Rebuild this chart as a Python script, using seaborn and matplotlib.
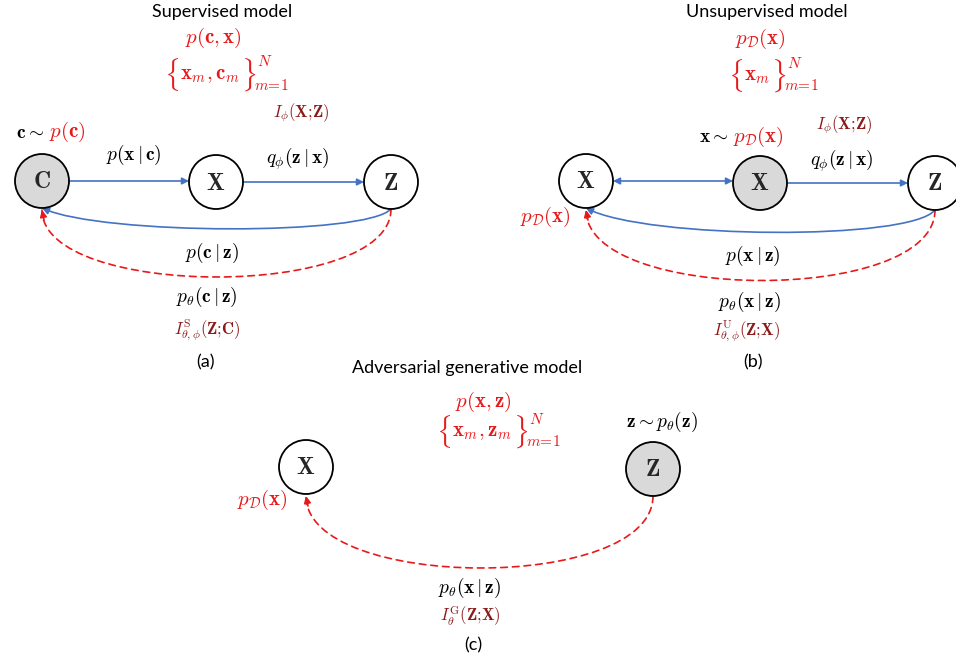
import matplotlib
matplotlib.use("Agg")
import matplotlib.pyplot as plt
import seaborn as sns
from matplotlib.patches import Circle, FancyArrowPatch
from matplotlib.path import Path

sns.set_theme(style="white")
plt.rcParams["font.family"] = ["Lato", "DejaVu Sans"]
plt.rcParams["mathtext.fontset"] = "cm"

BLUE = "#4472C4"
RED = "#E8191B"
DARKRED = "#8B1A1A"
GREY = "#D9D9D9"

# graph nodes: name -> label, shaded
node_names = ["Ca", "Xa", "Za", "Xb1", "Xb2", "Zb", "Xc", "Zc"]
node_labels = [r"$\mathbf{C}$", r"$\mathbf{X}$", r"$\mathbf{Z}$",
               r"$\mathbf{X}$", r"$\mathbf{X}$", r"$\mathbf{Z}$",
               r"$\mathbf{X}$", r"$\mathbf{Z}$"]
node_shaded = [True, False, False, False, True, False, False, True]

# edges: (from, to, kind)
straight_edges = [("Ca", "Xa", "->"), ("Xa", "Za", "->"), ("Xb2", "Zb", "->"), ("Xb1", "Xb2", "<->")]
blue_curves = [("Za", "Ca"), ("Zb", "Xb1")]
red_curves = [("Za", "Ca"), ("Zb", "Xb1"), ("Zc", "Xc")]

panel_titles = ["Supervised model", "Unsupervised model", "Adversarial generative model"]
panel_tags = ["(a)", "(b)", "(c)"]

# dataset sets
set_bodies = [r"$\mathbf{x}_m,\mathbf{c}_m$", r"$\mathbf{x}_m$", r"$\mathbf{x}_m,\mathbf{z}_m$"]

# layout (pixels)
R = 27
pos = {"Ca": (42, 181), "Xa": (216, 182), "Za": (391, 182),
       "Xb1": (586, 181), "Xb2": (760, 183), "Zb": (935, 183),
       "Xc": (306, 467), "Zc": (653, 469)}
blue_dip = {"Za": 27, "Zb": 31}
red_dip = {"Za": 91, "Zb": 95, "Zc": 97}
set_pos = [(210, 75), (757, 76), (482, 432)]

fig = plt.figure(figsize=(9.56, 6.62), dpi=100)
ax = fig.add_axes([0, 0, 1, 1])
ax.set_xlim(0, 956)
ax.set_ylim(662, 0)
ax.axis("off")

for name, lab, sh in zip(node_names, node_labels, node_shaded):
    x, y = pos[name]
    ax.add_patch(Circle((x, y), R, facecolor=GREY if sh else "white",
                        edgecolor="black", lw=1.3, zorder=3))
    ax.text(x, y + 1, lab, ha="center", va="center", fontsize=17, zorder=4)

for a, b, style in straight_edges:
    (x0, y0), (x1, y1) = pos[a], pos[b]
    st = "-|>" if style == "->" else "<|-|>"
    ax.add_patch(FancyArrowPatch((x0 + R, y0), (x1 - R, y0), arrowstyle=st,
                                 mutation_scale=10, color=BLUE, lw=1.2,
                                 shrinkA=0, shrinkB=0, zorder=2))

for a, b in blue_curves:
    (x0, y0), (x1, y1) = pos[a], pos[b]
    y0, y1 = y0 + R, y1 + R
    d = blue_dip[a]
    verts = [(x0, y0), (x0 - 25, y0 + d), (x1 + 60, y1 + d), (x1, y1)]
    p = Path(verts, [Path.MOVETO, Path.CURVE4, Path.CURVE4, Path.CURVE4])
    ax.add_patch(FancyArrowPatch(path=p, arrowstyle="-|>", mutation_scale=10,
                                 color=BLUE, lw=1.2, zorder=2))

for a, b in red_curves:
    (x0, y0), (x1, y1) = pos[a], pos[b]
    y0, y1 = y0 + R, y1 + R
    d = red_dip[a]
    verts = [(x0, y0), (x0, y0 + d), (x1, y1 + d), (x1, y1 + 2)]
    p = Path(verts, [Path.MOVETO, Path.CURVE4, Path.CURVE4, Path.CURVE4])
    ax.add_patch(FancyArrowPatch(path=p, arrowstyle="-", color=RED, lw=1.2,
                                 linestyle=(0, (4, 3)), zorder=2))
    ax.add_patch(FancyArrowPatch((x1 + 2, y1 + 12), (x1, y1 + 2), arrowstyle="-|>",
                                 mutation_scale=10, color=RED, lw=1.2,
                                 shrinkA=0, shrinkB=0, zorder=2))

# titles and tags
for t, (x, y) in zip(panel_titles, [(222, 12), (767, 12), (467, 368)]):
    ax.text(x, y, t, ha="center", va="center", fontsize=13, color="black")
for t, (x, y) in zip(panel_tags, [(206, 362), (753, 362), (473, 645)]):
    ax.text(x, y, t, ha="center", va="center", fontsize=13, color="black")

fs = 14
def m(x, y, s, c="black", size=fs, ha="center"):
    return ax.text(x, y, s, ha=ha, va="center", fontsize=size, color=c)

# sets with large braces
renderer = fig.canvas.get_renderer()
inv = ax.transData.inverted()
for body, (x, y) in zip(set_bodies, set_pos):
    t = m(x, y, body, RED, 15)
    bb = t.get_window_extent(renderer).transformed(inv)
    x0, x1 = min(bb.x0, bb.x1), max(bb.x0, bb.x1)
    m(x0 - 1, y, r"$\{$", RED, 20, ha="right")
    rb = m(x1 + 1, y, r"$\}$", RED, 20, ha="left")
    rbb = rb.get_window_extent(renderer).transformed(inv)
    xr = max(rbb.x0, rbb.x1)
    m(xr + 1, y - 13, r"$N$", RED, 11, ha="left")
    m(xr - 2, y + 10, r"$m\!=\!1$", RED, 11, ha="left")

# panel (a)
m(213, 38, r"$p(\mathbf{c},\mathbf{x})$", RED, 15)
m(301, 113, r"$I_{\phi}(\mathbf{X};\!\mathbf{Z})$", DARKRED, 12)
m(44, 132, r"$\mathbf{c}\sim$", "black", ha="right")
m(49, 132, r"$p(\mathbf{c})$", RED, 15, ha="left")
m(134, 155, r"$p(\mathbf{x}\,|\,\mathbf{c})$")
m(298, 159, r"$q_{\phi}(\mathbf{z}\,|\,\mathbf{x})$")
m(212, 253, r"$p(\mathbf{c}\,|\,\mathbf{z})$")
m(207, 297, r"$p_{\theta}(\mathbf{c}\,|\,\mathbf{z})$")
m(207, 330, r"$I^{\mathrm{S}}_{\theta,\phi}(\mathbf{Z};\!\mathbf{C})$", DARKRED, 12)

# panel (b)
m(760, 39, r"$p_{\mathcal{D}}(\mathbf{x})$", RED, 15)
m(729, 137, r"$\mathbf{x}\sim$", "black", ha="right")
m(733, 137, r"$p_{\mathcal{D}}(\mathbf{x})$", RED, 15, ha="left")
m(844, 125, r"$I_{\phi}(\mathbf{X};\!\mathbf{Z})$", DARKRED, 12)
m(842, 161, r"$q_{\phi}(\mathbf{z}\,|\,\mathbf{x})$")
m(545, 217, r"$p_{\mathcal{D}}(\mathbf{x})$", RED, 15)
m(753, 256, r"$p(\mathbf{x}\,|\,\mathbf{z})$")
m(750, 302, r"$p_{\theta}(\mathbf{x}\,|\,\mathbf{z})$")
m(747, 331, r"$I^{\mathrm{U}}_{\theta,\phi}(\mathbf{Z};\!\mathbf{X})$", DARKRED, 12)

# panel (c)
m(483, 402, r"$p(\mathbf{x},\mathbf{z})$", RED, 15)
m(662, 422, r"$\mathbf{z}\sim p_{\theta}(\mathbf{z})$")
m(262, 500, r"$p_{\mathcal{D}}(\mathbf{x})$", RED, 15)
m(470, 588, r"$p_{\theta}(\mathbf{x}\,|\,\mathbf{z})$")
m(470, 616, r"$I^{\mathrm{G}}_{\theta}(\mathbf{Z};\!\mathbf{X})$", DARKRED, 12)

fig.savefig("out.png", dpi=100, facecolor="white")
